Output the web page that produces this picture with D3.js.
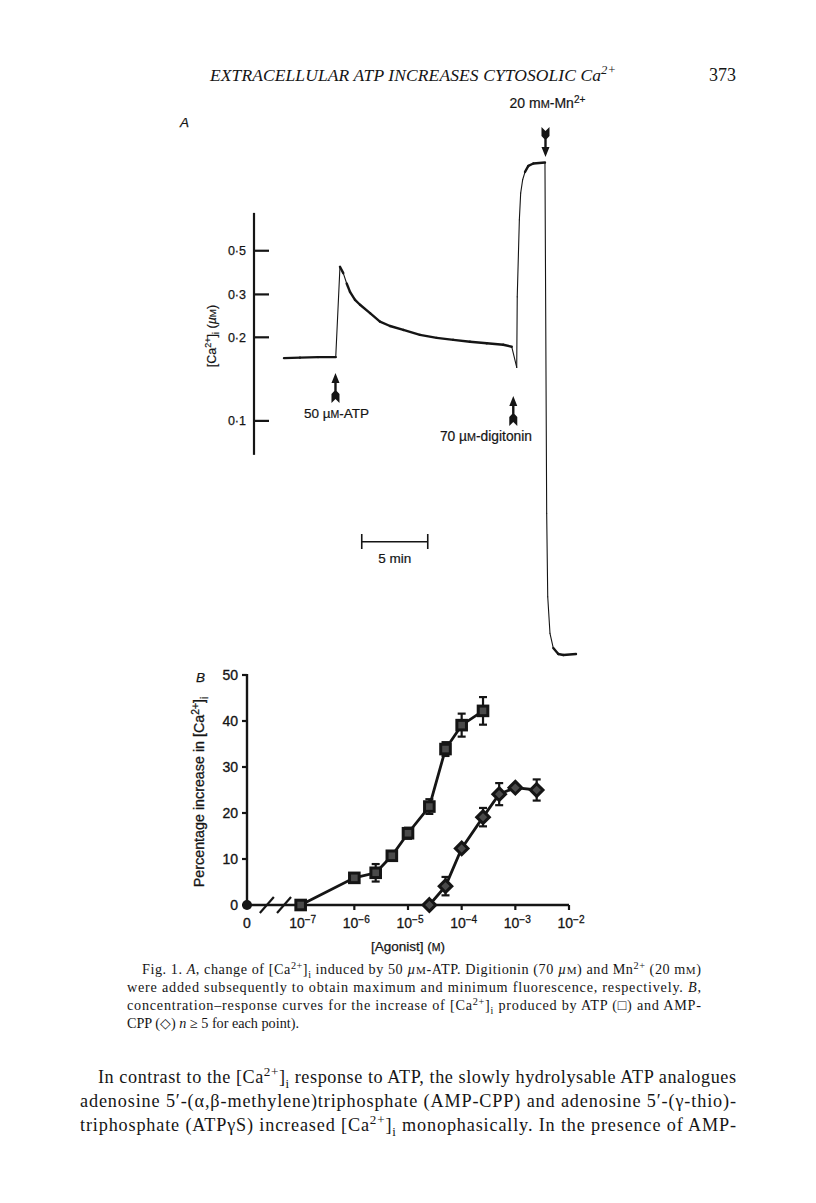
<!DOCTYPE html>
<html><head><meta charset="utf-8">
<script src="https://cdn.jsdelivr.net/npm/d3@7"></script>
<style>body{margin:0;background:#fff}svg{display:block}text{white-space:pre}</style>
</head><body><svg id="c" width="816" height="1203"></svg>
<script>
// ---------------- DATA ----------------
// Panel A: fluorescence trace (time in min, fluorescence as fraction of Fmin..Fmax)
const traceBaseline = [[0,0.601],[1.21,0.602],[2.58,0.603],[3.92,0.603]];
const traceATP = [[4.24,0.786],[4.49,0.773],[4.75,0.752],[5.00,0.735],[5.38,0.719],[5.76,0.709],
  [6.52,0.692],[7.27,0.675],[8.03,0.666],[9.04,0.658],[10.30,0.648],[11.57,0.642],[12.83,0.638],
  [14.09,0.634],[15.36,0.631],[16.61,0.628],[17.25,0.624]];
const traceDigitonin = [[17.63,0.582],[17.67,0.725],[17.83,0.881],[17.93,0.935],[18.08,0.962],
  [18.26,0.978],[18.51,0.990],[18.89,0.995],[19.77,0.997]];
const traceMn = [[19.90,0.287],[19.98,0.118],[20.15,0.044],[20.40,0.014],[20.78,0.002],[21.16,0.000],[22.12,0.002]];
const caTicks = [0.1, 0.2, 0.3, 0.5];          // [Ca2+]i tick values (µM)
const caAxisExtent = [0.0756, 0.946];
const quin2Kd = 0.111;                          // µM, calibration
const additionLabels = ["50 µ~{M}-ATP", "70 µ~{M}-digitonin", "20 m~{M}-Mn^{2+}"];
const additionTimes = [3.9, 17.37, 19.81];      // min
const scaleBarStart = 5.89, scaleBarMinutes = 5;

// Panel B: concentration-response
const atpConc = [1e-7, 1e-6, 2.5e-6, 5e-6, 1e-5, 2.5e-5, 5e-5, 1e-4, 2.5e-4];
const atpResp = [0, 5.9, 7.0, 10.7, 15.6, 21.4, 33.9, 39.1, 42.2];
const atpErr  = [0, 0.6, 1.9, 0.7, 1.2, 1.6, 1.5, 2.5, 3.0];
const ampConc = [2.5e-5, 5e-5, 1e-4, 2.5e-4, 5e-4, 1e-3, 2.5e-3];
const ampResp = [0, 4.1, 12.3, 19.1, 24.1, 25.5, 25.0];
const ampErr  = [0, 2.0, 0.6, 2.0, 2.4, 0.5, 2.3];
const controlResp = 0;
const bYTicks = [0, 10, 20, 30, 40, 50];
const bXTicks = [1e-7, 1e-6, 1e-5, 1e-4, 1e-3, 1e-2];
const bXTickLabels = ["10^{−7}", "10^{−6}", "10^{−5}", "10^{−4}", "10^{−3}", "10^{−2}"];

// Text
const header = "EXTRACELLULAR ATP INCREASES CYTOSOLIC Ca^{2+}";
const pageNo = "373";
const captionLines = [
  "Fig. 1. *{A}, change of [Ca^{2+}]_{i} induced by 50 *{µ}~{M}-ATP. Digitionin (70 *{µ}~{M}) and Mn^{2+} (20 m~{M})",
  "were added subsequently to obtain maximum and minimum fluorescence, respectively. *{B},",
  "concentration–response curves for the increase of [Ca^{2+}]_{i} produced by ATP (□) and AMP-",
  "CPP (◇) *{n} ≥ 5 for each point)."
];
const bodyLines = [
  "In contrast to the [Ca^{2+}]_{i} response to ATP, the slowly hydrolysable ATP analogues",
  "adenosine 5′-(α,β-methylene)triphosphate (AMP-CPP) and adenosine 5′-(γ-thio)-",
  "triphosphate (ATPγS) increased [Ca^{2+}]_{i} monophasically. In the presence of AMP-"
];

// ---------------- DRAWING ----------------
const ink = "#151515";
const sans = "'Liberation Sans', Arial, Helvetica, sans-serif";
const serif = "'Liberation Serif', 'Times New Roman', serif";
const svg = d3.select("#c");
svg.append("rect").attr("width", 816).attr("height", 1203).attr("fill", "#fff");

function rich(t, str, fs) {
  const re = /([\^_~*])\{([^}]*)\}/g;
  let last = 0, m; const parts = [];
  while ((m = re.exec(str))) {
    if (m.index > last) parts.push({k: "n", s: str.slice(last, m.index)});
    parts.push({k: m[1], s: m[2]}); last = re.lastIndex;
  }
  if (last < str.length) parts.push({k: "n", s: str.slice(last)});
  let cur = 0;
  parts.forEach(p => {
    let target = 0, size = fs, it = false;
    if (p.k === "^") { target = -fs * 0.38; size = fs * 0.72; }
    else if (p.k === "_") { target = fs * 0.25; size = fs * 0.7; }
    else if (p.k === "~") { size = fs * 0.78; }
    else if (p.k === "*") { it = true; }
    const ts = t.append("tspan").attr("font-size", size).attr("dy", target - cur).text(p.s);
    if (it) ts.attr("font-style", "italic");
    cur = target;
  });
  return t;
}
function label(x, y, str, fs, opts = {}) {
  const t = svg.append("text").attr("x", x).attr("y", y).attr("fill", ink)
    .attr("font-family", opts.family || sans).attr("font-size", fs)
    .attr("text-anchor", opts.anchor || "start");
  if (opts.italic) t.attr("font-style", "italic");
  if (opts.heavy) t.attr("stroke", ink).attr("stroke-width", opts.heavy);
  if (opts.rotate) t.attr("transform", `rotate(${opts.rotate},${x},${y})`);
  if (opts.len) t.attr("textLength", opts.len).attr("lengthAdjust", "spacing");
  return rich(t, str, fs);
}

// Header
label(210, 81, header, 17.5, {family: serif, italic: true, len: 406});
label(736, 81, pageNo, 18, {family: serif, anchor: "end"});

// ---------- Panel A ----------
const xA = d3.scaleLinear().domain([0, 22.12]).range([284, 284 + 22.12 * 13.2]);
const yA = d3.scaleLinear().domain([0, 1]).range([655, 161]);
const caToF = c => c / (quin2Kd + c);
const axAx = 254;
label(180, 127, "A", 13.5, {italic: true, heavy: 0.25});
svg.append("line").attr("x1", axAx).attr("x2", axAx)
  .attr("y1", yA(caToF(caAxisExtent[0]))).attr("y2", yA(caToF(caAxisExtent[1])))
  .attr("stroke", ink).attr("stroke-width", 2.2);
caTicks.forEach(c => {
  const y = yA(caToF(c));
  svg.append("line").attr("x1", axAx).attr("x2", axAx + 15).attr("y1", y).attr("y2", y)
    .attr("stroke", ink).attr("stroke-width", 2.2);
  label(246, y + 4.5, d3.format(".1f")(c).replace(".", "·"), 12.5, {anchor: "end", heavy: 0.25});
});
label(216, 336, "[Ca^{2+}]_{i} (*{µ}~{M})", 12.5, {anchor: "middle", rotate: -90, heavy: 0.2});

// trace
const trace = traceBaseline.concat(traceATP, traceDigitonin, traceMn).map(d => [xA(d[0]), yA(d[1])]);
for (let i = 1; i < trace.length; i++) {
  const [x1, y1] = trace[i - 1], [x2, y2] = trace[i];
  const steep = Math.abs(y2 - y1) > 3 * Math.abs(x2 - x1);
  svg.append("line").attr("x1", x1).attr("y1", y1).attr("x2", x2).attr("y2", y2)
    .attr("stroke", ink).attr("stroke-width", steep ? 1.1 : 2.4).attr("stroke-linecap", "round");
}

// addition arrows
function arrow(x, tipY, down) {
  const s = down ? -1 : 1;
  const p = d3.path();
  p.moveTo(x, tipY);
  p.lineTo(x + 4, tipY + s * 10); p.lineTo(x + 1.2, tipY + s * 10);
  p.lineTo(x + 1.2, tipY + s * 18); p.lineTo(x + 4, tipY + s * 21);
  p.lineTo(x + 4, tipY + s * 30); p.lineTo(x, tipY + s * 26);
  p.lineTo(x - 4, tipY + s * 30); p.lineTo(x - 4, tipY + s * 21);
  p.lineTo(x - 1.2, tipY + s * 18); p.lineTo(x - 1.2, tipY + s * 10);
  p.lineTo(x - 4, tipY + s * 10); p.closePath();
  svg.append("path").attr("d", p.toString()).attr("fill", ink);
}
arrow(xA(additionTimes[0]), 373, false);
label(xA(additionTimes[0]) + 1, 418, additionLabels[0], 13.5, {anchor: "middle", heavy: 0.2});
arrow(xA(additionTimes[1]), 396, false);
label(532, 441, additionLabels[1], 13.8, {anchor: "end", heavy: 0.2});
arrow(xA(additionTimes[2]), 157, true);
label(xA(additionTimes[2]) + 2, 108, additionLabels[2], 14, {anchor: "middle", heavy: 0.2});

// scale bar
const sb1 = xA(scaleBarStart), sb2 = xA(scaleBarStart + scaleBarMinutes);
svg.append("line").attr("x1", sb1).attr("x2", sb2).attr("y1", 541.7).attr("y2", 541.7).attr("stroke", ink).attr("stroke-width", 1.6);
[sb1, sb2].forEach(x => svg.append("line").attr("x1", x).attr("x2", x).attr("y1", 534).attr("y2", 549).attr("stroke", ink).attr("stroke-width", 1.6));
label((sb1 + sb2) / 2, 563, scaleBarMinutes + " min", 13.5, {anchor: "middle", heavy: 0.2});

// ---------- Panel B ----------
const xB = d3.scaleLog().domain([1e-8, 1e-2]).range([247, 569]);
const yB = d3.scaleLinear().domain([0, 50]).range([905, 675]);
const x0 = xB(1e-8);
label(196, 682, "B", 13.5, {italic: true, heavy: 0.25});
svg.append("line").attr("x1", x0).attr("x2", x0).attr("y1", yB(0)).attr("y2", yB(50) - 1).attr("stroke", ink).attr("stroke-width", 2.4);
svg.append("line").attr("x1", x0).attr("x2", xB(1e-2)).attr("y1", yB(0)).attr("y2", yB(0)).attr("stroke", ink).attr("stroke-width", 2.4);
bYTicks.forEach(v => {
  svg.append("line").attr("x1", x0 - 5).attr("x2", x0).attr("y1", yB(v)).attr("y2", yB(v)).attr("stroke", ink).attr("stroke-width", 2.2);
  label(x0 - 9, yB(v) + 5, String(v), 14, {anchor: "end", heavy: 0.35});
});
bXTicks.forEach((v, i) => {
  svg.append("line").attr("x1", xB(v)).attr("x2", xB(v)).attr("y1", yB(0)).attr("y2", yB(0) + 5).attr("stroke", ink).attr("stroke-width", 2.2);
  label(xB(v) + 2, 928, bXTickLabels[i], 14, {anchor: "middle", heavy: 0.3});
});
label(x0, 928, "0", 14, {anchor: "middle", heavy: 0.35});
// axis break marks
[0.37, 0.69].forEach(f => {
  const bx = x0 + (xB(1e-7) - x0) * f;
  svg.append("line").attr("x1", bx - 7).attr("x2", bx + 7).attr("y1", yB(0) + 8).attr("y2", yB(0) - 8).attr("stroke", ink).attr("stroke-width", 2.2);
});
label(204, 792, "Percentage increase in [Ca^{2+}]_{i}", 14.3, {anchor: "middle", rotate: -90, heavy: 0.3});
label(408, 951, "[Agonist] (~{M})", 13.5, {anchor: "middle", heavy: 0.25});

const line = d3.line().x(d => xB(d[0])).y(d => yB(d[1]));
function series(conc, resp, err, shape) {
  const pts = conc.map((c, i) => [c, resp[i], err[i]]);
  svg.append("path").attr("d", line(pts)).attr("fill", "none").attr("stroke", ink).attr("stroke-width", 2.8);
  pts.forEach(([c, r, e]) => {
    if (e > 0.8) {
      const x = xB(c), ya = yB(r + e), yb = yB(r - e);
      svg.append("line").attr("x1", x).attr("x2", x).attr("y1", ya).attr("y2", yb).attr("stroke", ink).attr("stroke-width", 2.2);
      [ya, yb].forEach(y => svg.append("line").attr("x1", x - 4).attr("x2", x + 4).attr("y1", y).attr("y2", y).attr("stroke", ink).attr("stroke-width", 2.2));
    }
    const x = xB(c), y = yB(r);
    if (shape === "square") {
      svg.append("rect").attr("x", x - 4.8).attr("y", y - 4.8).attr("width", 9.6).attr("height", 9.6)
        .attr("fill", "#4a4a4a").attr("stroke", ink).attr("stroke-width", 3);
    } else {
      svg.append("path").attr("d", `M${x},${y - 6.3}L${x + 6.3},${y}L${x},${y + 6.3}L${x - 6.3},${y}Z`)
        .attr("fill", "#4a4a4a").attr("stroke", ink).attr("stroke-width", 3);
    }
  });
}
series(atpConc, atpResp, atpErr, "square");
series(ampConc, ampResp, ampErr, "diamond");
svg.append("circle").attr("cx", x0).attr("cy", yB(controlResp)).attr("r", 5).attr("fill", ink);

// ---------- Caption & body ----------
const capX = [142, 127, 127, 127], capB = [974, 992, 1010, 1028];
captionLines.forEach((s, i) => {
  label(capX[i], capB[i], s, 14.2, {family: serif, len: i < 3 ? 701 - capX[i] : null});
});
const bodyX = [98, 80, 80], bodyB = [1083, 1107, 1131];
bodyLines.forEach((s, i) => label(bodyX[i], bodyB[i], s, 18.2, {family: serif, len: 736 - bodyX[i]}));
</script></body></html>
